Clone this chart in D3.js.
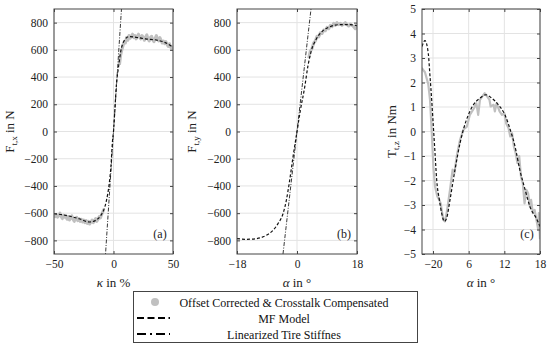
<!DOCTYPE html>
<html>
<head>
<meta charset="utf-8">
<script src="https://cdn.jsdelivr.net/npm/d3@7"></script>
<style>
  body { margin: 0; background: #fff; }
  svg { display: block; }
  svg text { font-family: 'Liberation Serif', 'Times New Roman', serif; }
</style>
</head>
<body>
<div id="chart"></div>
<script>
// panel (a): longitudinal force over slip
const kappaMeas = [-50,-49,-48,-47,-46,-45,-44,-43,-42,-41,-40,-39,-38,-37,-36,-35,-34,-33,-32,-31,-30,-29,-28,-27,-26,-25,-24,-23,-22,-21,-20,-19,-18,-17,-16,-15,-14,-13,-12,-11,-10,-9,-8];
const ftxMeasL = [-605,-625,-610,-630,-615,-600,-625,-640,-615,-630,-620,-645,-625,-650,-635,-620,-645,-660,-640,-630,-655,-640,-660,-645,-665,-650,-670,-655,-675,-660,-680,-665,-650,-670,-655,-640,-660,-645,-625,-635,-610,-590,-570];
const kappaMeasR = [5,6,7,8,9,10,11,12,13,14,15,16,17,18,19,20,21,22,23,24,25,26,27,28,29,30,31,32,33,34,35,36,37,38,39,40,41,42,43,44,45,46,47,48,49,50];
const ftxMeasR = [490,560,600,630,660,650,690,670,705,685,700,715,690,705,680,700,715,690,680,705,690,670,695,710,680,665,690,700,675,660,685,705,680,665,690,670,650,665,645,660,640,625,645,620,605,630];
const kappaMF = [-50,-40,-29,-20,-15,-10.6,-7.8,-5.9,-3.6,-2.2,-0.8,0,1.1,2.5,4.2,6.2,9,13,19,27,36,43,50];
const ftxMF = [-604,-616,-641,-665,-653,-616,-567,-506,-384,-262,-66,0,154,350,472,594,667,697,692,680,672,655,619];
const kappaLin = [-7, 7];
const ftxLin = [-940, 940];

// panel (b): lateral force over slip angle
const alphaMeasB = [3.5,4,4.5,5,5.5,6,6.5,7,7.5,8,8.5,9,9.5,10,10.5,11,11.5,12,12.5,13,13.5,14,14.5,15,15.5,16,16.5,17,17.5,18];
const ftyMeas = [540,590,610,650,665,700,695,725,720,745,740,765,755,780,770,795,780,800,785,795,780,790,800,785,775,790,780,770,755,775];
const alphaMFB = [-18,-15.2,-12.2,-9.2,-7.2,-5.7,-4.2,-3.2,-2.2,-1.2,0,1,2.3,3.3,4.3,5.8,7.8,9.9,12.9,15.9,18];
const ftyMF = [-787,-792,-787,-763,-726,-677,-604,-506,-359,-188,0,154,325,484,594,680,741,770,785,785,778];
const alphaLin = [-4.2, 4.2];
const ftyLin = [-900, 900];

// panel (c): aligning torque over slip angle
const alphaMeasC = [-1.9,-1.35,-0.8,-0.5,-0.2,0.06,0.34,0.73,1.07,1.29,1.46,1.74,2,2.3,2.86,3.3,3.6,4,4.55,5.1,5.4,5.7,6.2,6.9,7.3,7.6,7.9,8.3,8.7,9.1,9.5,9.7,10.2,10.4,10.7,11.2,11.6,12,12.3,12.7,13,13.3,13.6,13.9,14.2,14.5,14.8,15.1,15.4,15.7,16,16.3,16.5,16.8,17.1,17.4,17.7,17.8,18];
const tzMeas = [2.59,2.42,1.94,1.29,-0.07,-1.43,-2.24,-2.65,-2.79,-2.93,-3.2,-3.6,-3.67,-3.33,-2.38,-1.56,-1.7,-1.0,-0.34,0.07,0.14,0.2,0.68,0.95,1.15,0.68,1.29,1.43,1.56,1.43,1.29,1.02,1.09,0.82,1.15,0.82,0.68,0.75,0.34,0.14,-0.2,-0.07,-0.61,-0.88,-1.29,-1.0,-1.84,-2.1,-2.93,-2.38,-2.52,-3.06,-2.79,-3.33,-3.2,-3.6,-4.0,-3.33,-4.4];
const alphaMFC = [-1.85,-1.35,-0.8,-0.5,-0.22,0.06,0.34,0.62,1.07,1.46,1.91,2.3,2.86,3.7,4.55,5.1,5.95,6.8,7.9,8.9,9.9,11,12.1,13,13.8,14.6,15.5,16.3,17.5,18];
const tzMF = [3.47,3.71,3.2,2.24,1.29,0.2,-0.88,-1.97,-2.79,-3.33,-3.67,-3.53,-2.79,-1.56,-0.47,0.07,0.68,1.09,1.36,1.5,1.36,1.09,0.68,0.07,-0.61,-1.56,-2.38,-3.06,-3.6,-3.88];

const forceTicks = [-800,-600,-400,-200,0,200,400,600,800];
const torqueTicks = [-5,-4,-3,-2,-1,0,1,2,3,4,5];
const kappaTicks = [-50, 0, 50];
const alphaTicksB = [-18, 0, 18];
const alphaTicksC = [0, 6, 12, 18];
const alphaTickLabelsC = ["\u221220", "6", "12", "18"];

const legendLabels = ["Offset Corrected & Crosstalk Compensated", "MF Model", "Linearized Tire Stiffnes"];

const width = 550, height = 349;
const plotTop = 9, plotBottom = 254;

const svg = d3.select('#chart').append('svg')
  .attr('width', width)
  .attr('height', height);

const panel = (o) => {
  const x = d3.scaleLinear().domain(o.xDomain).range([o.left, o.right]);
  const y = d3.scaleLinear().domain(o.yDomain).range([plotBottom, plotTop]);
  const g = svg.append('g');

  // grid
  g.append('g').selectAll('line').data(o.xTicks).join('line')
    .attr('x1', d => x(d)).attr('x2', d => x(d))
    .attr('y1', plotTop).attr('y2', plotBottom)
    .attr('stroke', '#e3e3e3').attr('stroke-width', 1);
  g.append('g').selectAll('line').data(o.yTicks).join('line')
    .attr('x1', o.left).attr('x2', o.right)
    .attr('y1', d => y(d)).attr('y2', d => y(d))
    .attr('stroke', '#e3e3e3').attr('stroke-width', 1);

  const clipId = 'clip-' + o.name;
  svg.append('clipPath').attr('id', clipId).append('rect')
    .attr('x', o.left).attr('y', plotTop)
    .attr('width', o.right - o.left).attr('height', plotBottom - plotTop);

  const line = d3.line().x(d => x(d[0])).y(d => y(d[1]));
  const marks = g.append('g').attr('clip-path', `url(#${clipId})`);

  o.meas.forEach(m => {
    marks.append('path')
      .attr('d', line(d3.zip(m[0], m[1])))
      .attr('fill', 'none').attr('stroke', '#c0c0c0')
      .attr('stroke-width', o.measWidth).attr('stroke-linejoin', 'round');
  });
  if (o.lin) {
    marks.append('path')
      .attr('d', line(d3.zip(o.lin[0], o.lin[1])))
      .attr('fill', 'none').attr('stroke', '#222')
      .attr('stroke-width', 0.9).attr('stroke-dasharray', '4,1.5,1,1.5');
  }
  marks.append('path')
    .attr('d', line.curve(d3.curveMonotoneX)(d3.zip(o.mf[0], o.mf[1])))
    .attr('fill', 'none').attr('stroke', '#111')
    .attr('stroke-width', 1.2).attr('stroke-dasharray', '3,2');

  // axes with inward ticks, box style
  const ax = g.append('g').attr('transform', `translate(0,${plotBottom})`)
    .call(d3.axisBottom(x).tickValues(o.xTicks).tickSize(-3).tickPadding(6)
      .tickFormat((d, i) => o.xLabels ? o.xLabels[i] : d3.format('')(d)));
  const axTop = g.append('g').attr('transform', `translate(0,${plotTop})`)
    .call(d3.axisTop(x).tickValues(o.xTicks).tickSize(-3).tickFormat(''));
  const ay = g.append('g').attr('transform', `translate(${o.left},0)`)
    .call(d3.axisLeft(y).tickValues(o.yTicks).tickSize(-3).tickPadding(6));
  const ayR = g.append('g').attr('transform', `translate(${o.right},0)`)
    .call(d3.axisRight(y).tickValues(o.yTicks).tickSize(-3).tickFormat(''));
  [ax, axTop, ay, ayR].forEach(a => {
    a.attr('font-family', null);
    a.select('.domain').remove();
    a.selectAll('line').attr('stroke', '#444');
    a.selectAll('text').attr('font-size', 11.5).attr('fill', '#222');
  });

  g.append('rect')
    .attr('x', o.left).attr('y', plotTop)
    .attr('width', o.right - o.left).attr('height', plotBottom - plotTop)
    .attr('fill', 'none').attr('stroke', '#444').attr('stroke-width', 1);

  // labels
  g.append('text')
    .attr('x', (o.left + o.right) / 2).attr('y', 287)
    .attr('text-anchor', 'middle').attr('font-size', 13).attr('fill', '#222')
    .html(o.xLabel);

  const yl = g.append('text')
    .attr('transform', `translate(${o.yLabelX},${(plotTop + plotBottom) / 2}) rotate(-90)`)
    .attr('text-anchor', 'middle').attr('font-size', 13).attr('fill', '#222');
  yl.append('tspan').text(o.yLetter);
  yl.append('tspan').attr('font-size', 9).attr('dy', 3).text(o.ySub);
  yl.append('tspan').attr('dy', -3).text(' in ' + o.yUnit);

  g.append('text')
    .attr('x', o.right - 13).attr('y', 238)
    .attr('text-anchor', 'middle').attr('font-size', 12).attr('fill', '#222')
    .text(o.tag);
};

panel({
  name: 'a', left: 54, right: 173, xDomain: [-50, 50], yDomain: [-900, 900],
  xTicks: kappaTicks, yTicks: forceTicks, measWidth: 3,
  meas: [[kappaMeas, ftxMeasL], [kappaMeasR, ftxMeasR]],
  mf: [kappaMF, ftxMF], lin: [kappaLin, ftxLin],
  xLabel: '<tspan font-style="italic">\u03ba</tspan> in %',
  yLetter: 'F', ySub: 't,x', yUnit: 'N', yLabelX: 14, tag: '(a)'
});

panel({
  name: 'b', left: 237, right: 357, xDomain: [-18, 18], yDomain: [-900, 900],
  xTicks: alphaTicksB, yTicks: forceTicks, measWidth: 3,
  meas: [[alphaMeasB, ftyMeas]],
  mf: [alphaMFB, ftyMF], lin: [alphaLin, ftyLin],
  xLabel: '<tspan font-style="italic">\u03b1</tspan> in \u00b0',
  yLetter: 'F', ySub: 't,y', yUnit: 'N', yLabelX: 196, tag: '(b)'
});

panel({
  name: 'c', left: 422, right: 540, xDomain: [-1.85, 18], yDomain: [-5, 5],
  xTicks: alphaTicksC, xLabels: alphaTickLabelsC, yTicks: torqueTicks, measWidth: 2.2,
  meas: [[alphaMeasC, tzMeas]],
  mf: [alphaMFC, tzMF], lin: null,
  xLabel: '<tspan font-style="italic">\u03b1</tspan> in \u00b0',
  yLetter: 'T', ySub: 't,z', yUnit: 'Nm', yLabelX: 396, tag: '(c)'
});

// legend
const legend = svg.append('g');
legend.append('rect')
  .attr('x', 133.5).attr('y', 291.5).attr('width', 284).attr('height', 51)
  .attr('fill', '#fff').attr('stroke', '#444').attr('stroke-width', 1);

const rowY = [302, 318, 334];
legend.selectAll('text.lg').data(legendLabels).join('text')
  .attr('class', 'lg')
  .attr('x', 284).attr('y', (d, i) => rowY[i] + 4.5)
  .attr('text-anchor', 'middle').attr('font-size', 12).attr('fill', '#111')
  .text(d => d);

legend.append('circle').attr('cx', 155).attr('cy', rowY[0]).attr('r', 4).attr('fill', '#c0c0c0');
legend.append('line').attr('x1', 137).attr('x2', 170).attr('y1', rowY[1]).attr('y2', rowY[1])
  .attr('stroke', '#000').attr('stroke-width', 2.2).attr('stroke-dasharray', '7,3.5');
legend.append('line').attr('x1', 137).attr('x2', 170).attr('y1', rowY[2]).attr('y2', rowY[2])
  .attr('stroke', '#000').attr('stroke-width', 2.2).attr('stroke-dasharray', '9,4,2,4');
</script>
</body>
</html>
